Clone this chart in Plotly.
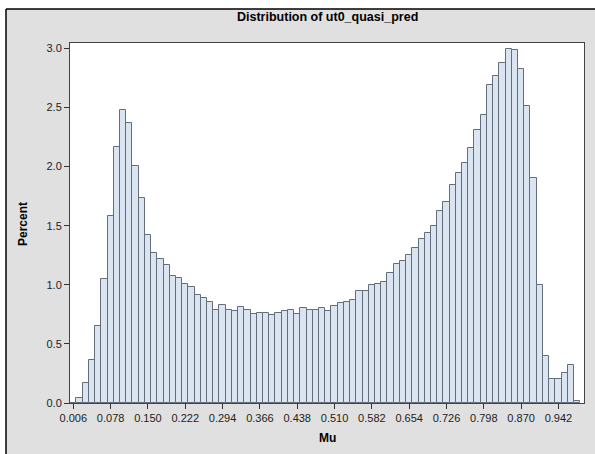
import plotly.graph_objects as go

# Histogram data (bin midpoints start at 0.006, width 0.012)
bin_start = 0.006
bin_width = 0.012
percent = [
    0.0, 0.042, 0.169, 0.360, 0.648, 1.045, 1.583, 2.169, 2.482, 2.366,
    2.003, 1.738, 1.423, 1.273, 1.217, 1.169, 1.073, 1.054, 1.006, 0.980,
    0.915, 0.887, 0.851, 0.789, 0.825, 0.789, 0.780, 0.811, 0.786, 0.749,
    0.758, 0.758, 0.741, 0.763, 0.780, 0.789, 0.752, 0.803, 0.789, 0.783,
    0.803, 0.780, 0.823, 0.845, 0.854, 0.870, 0.946, 0.946, 0.997, 1.006,
    1.020, 1.099, 1.172, 1.203, 1.251, 1.307, 1.386, 1.442, 1.496, 1.623,
    1.696, 1.848, 1.944, 2.028, 2.158, 2.307, 2.434, 2.687, 2.766, 2.873,
    2.997, 2.983, 2.823, 2.513, 1.901, 0.997, 0.400, 0.203, 0.203, 0.254,
    0.321, 0.014,
]
midpoints = [round(bin_start + bin_width * i, 3) for i in range(len(percent))]

x_ticks = [0.006, 0.078, 0.150, 0.222, 0.294, 0.366, 0.438, 0.510, 0.582,
           0.654, 0.726, 0.798, 0.870, 0.942]
x_tick_labels = ["%.3f" % v for v in x_ticks]
y_ticks = [0.0, 0.5, 1.0, 1.5, 2.0, 2.5, 3.0]

FONT = "Liberation Sans, Arial, sans-serif"

fig = go.Figure()
fig.add_trace(go.Bar(
    x=midpoints, y=percent, width=bin_width,
    marker=dict(color="#dbe5f1", line=dict(color="#646e7a", width=1)),
    hoverinfo="x+y",
))

W, H = 595, 454
L, R, T, B = 70, 11, 43, 51
pw, ph = W - L - R, H - T - B

def px_x(p):
    return (p - L) / pw

def px_y(p):
    return (H - B - p) / ph

fig.update_layout(
    width=W, height=H,
    margin=dict(l=L, r=R, t=T, b=B),
    paper_bgcolor="#e0e0e0",
    plot_bgcolor="white",
    bargap=0,
    showlegend=False,
    font=dict(family=FONT, size=11, color="#222"),
    xaxis=dict(
        range=[-0.0004, 0.9913], tickvals=x_ticks, ticktext=x_tick_labels,
        ticks="outside", ticklen=5, tickcolor="#333", showgrid=False,
        zeroline=False, showline=True, mirror=True, linecolor="#444",
        linewidth=1, tickfont=dict(size=11, color="#222"),
    ),
    yaxis=dict(
        range=[0, 3.045], tickvals=y_ticks, tickformat=".1f",
        ticks="outside", ticklen=5, tickcolor="#333", showgrid=False,
        zeroline=False, showline=True, mirror=True, linecolor="#444",
        linewidth=1, tickfont=dict(size=11, color="#222"),
    ),
    shapes=[
        dict(type="rect", xref="paper", yref="paper", x0=px_x(0), x1=px_x(6),
             y0=px_y(H), y1=px_y(0), fillcolor="white", line=dict(width=0),
             layer="above"),
        dict(type="rect", xref="paper", yref="paper", x0=px_x(0), x1=px_x(W),
             y0=px_y(9), y1=px_y(0), fillcolor="white", line=dict(width=0),
             layer="above"),
        dict(type="line", xref="paper", yref="paper", x0=px_x(6), x1=px_x(W),
             y0=px_y(9), y1=px_y(9), line=dict(color="black", width=1.5),
             layer="above"),
        dict(type="line", xref="paper", yref="paper", x0=px_x(6), x1=px_x(6),
             y0=px_y(9), y1=px_y(H), line=dict(color="black", width=1.5),
             layer="above"),
    ],
    annotations=[
        dict(text="<b>Distribution of ut0_quasi_pred</b>", xref="paper", yref="paper",
             x=0.5, y=px_y(17), showarrow=False, xanchor="center", yanchor="middle",
             font=dict(family=FONT, size=12.5, color="black")),
        dict(text="<b>Mu</b>", xref="paper", yref="paper",
             x=0.5, y=px_y(438), showarrow=False, xanchor="center", yanchor="middle",
             font=dict(family=FONT, size=12, color="black")),
        dict(text="<b>Percent</b>", xref="paper", yref="paper", textangle=-90,
             x=px_x(23), y=px_y(224), showarrow=False, xanchor="center", yanchor="middle",
             font=dict(family=FONT, size=12, color="black")),
    ],
)

fig.write_html(
    "out.html",
    config={"displayModeBar": False},
    post_script="document.body.style.margin='0';document.body.style.padding='0';",
)
